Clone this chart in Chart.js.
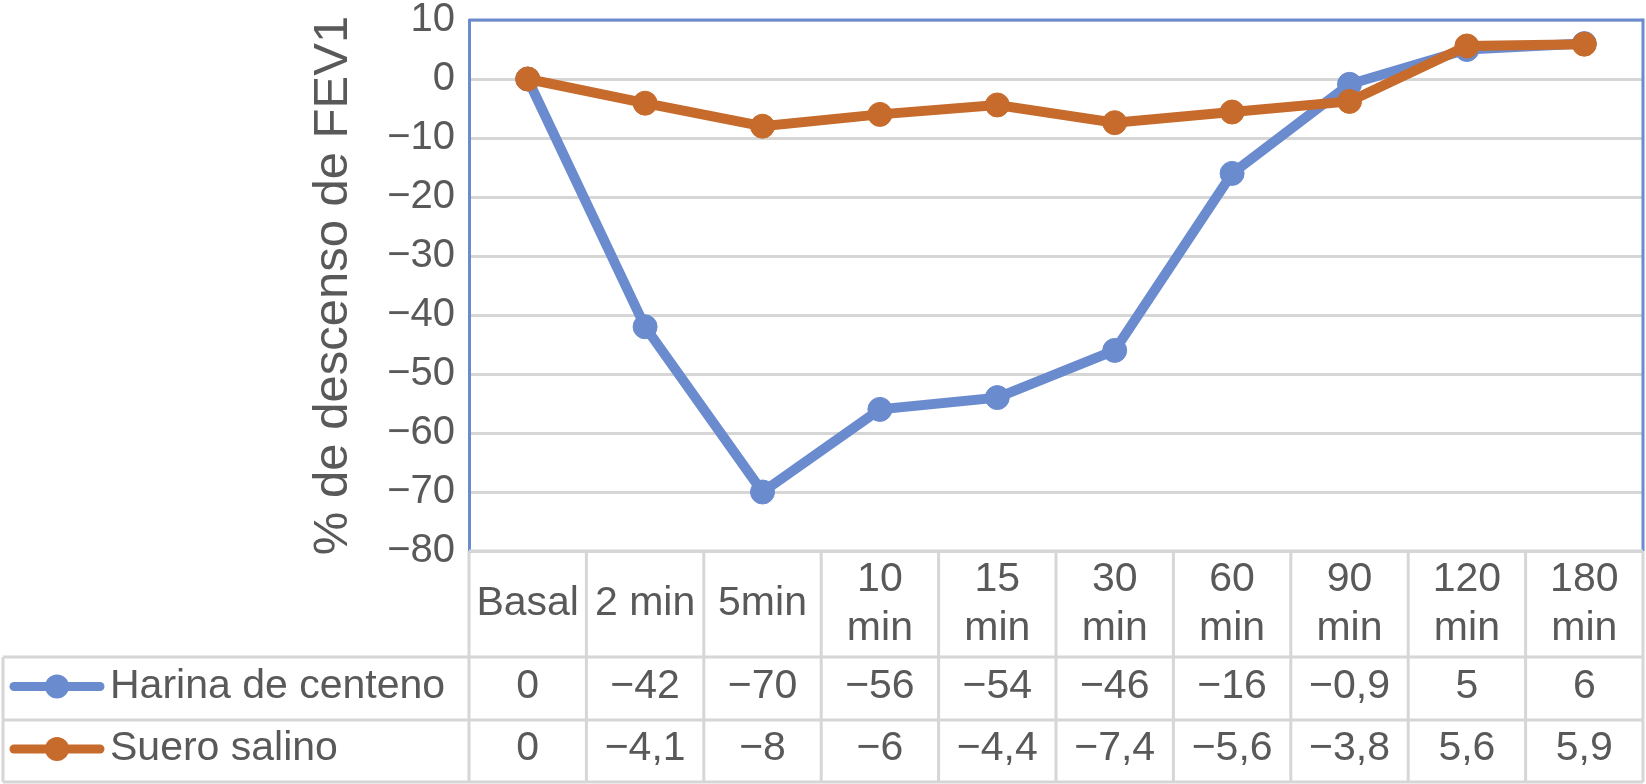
<!DOCTYPE html>
<html>
<head>
<meta charset="utf-8">
<script src="https://cdn.jsdelivr.net/npm/chart.js@4.4.1/dist/chart.umd.min.js"></script>
<style>
    html, body { margin: 0; padding: 0; background: #fff; }
    #wrap { width: 1646px; height: 784px; }
</style>
</head>
<body>
<div id="wrap"><canvas id="fevChart"></canvas></div>
<script>
const categories = ['Basal', '2 min', '5min', '10 min', '15 min', '30 min', '60 min', '90 min', '120 min', '180 min'];
const harina = [0, -42, -70, -56, -54, -46, -16, -0.9, 5, 6];
const suero = [0, -4.1, -8, -6, -4.4, -7.4, -5.6, -3.8, 5.6, 5.9];
const seriesNames = ['Harina de centeno', 'Suero salino'];
const yTicks = [10, 0, -10, -20, -30, -40, -50, -60, -70, -80];

const blue = '#6b8bcf';
const orange = '#c66b2c';
const textGray = '#595959';
const lineGray = '#d6d6d6';
const fontFam = "'Liberation Sans', Arial, sans-serif";

function fmt(v) {
    let s = String(Math.abs(v)).replace('.', ',');
    return v < 0 ? '\u2212' + s : s;
}

// draws the plot frame and the data table under the plot, aligned to the x scale
const tablePlugin = {
    id: 'dataTable',
    beforeDatasetsDraw(chart) {
        const ctx = chart.ctx;
        const a = chart.chartArea;
        ctx.save();
        ctx.strokeStyle = blue;
        ctx.lineWidth = 3;
        ctx.beginPath();
        ctx.moveTo(a.left, a.top);
        ctx.lineTo(a.right, a.top);
        ctx.lineTo(a.right, a.bottom);
        ctx.stroke();
        ctx.restore();
    },
    afterDraw(chart) {
        const ctx = chart.ctx;
        const xs = chart.scales.x;
        const a = chart.chartArea;
        const half = (xs.getPixelForValue(1) - xs.getPixelForValue(0)) / 2;
        const top = a.bottom;
        const headBottom = top + 106;
        const r1 = headBottom + 63;
        const r2 = r1 + 62;
        const tableLeft = 3;

        ctx.save();
        ctx.strokeStyle = lineGray;
        ctx.lineWidth = 3;
        ctx.beginPath();
        ctx.moveTo(a.left, top); ctx.lineTo(a.right, top);
        for (let y of [headBottom, r1, r2]) {
            ctx.moveTo(tableLeft, y); ctx.lineTo(a.right, y);
        }
        ctx.moveTo(tableLeft, headBottom); ctx.lineTo(tableLeft, r2);
        for (let i = 0; i <= categories.length; i++) {
            let x = xs.getPixelForValue(0) - half + i * 2 * half;
            ctx.moveTo(x, top); ctx.lineTo(x, r2);
        }
        ctx.stroke();

        ctx.fillStyle = textGray;
        ctx.font = '41px ' + fontFam;
        ctx.textAlign = 'center';
        ctx.textBaseline = 'middle';
        const headMid = (top + headBottom) / 2;
        categories.forEach((c, i) => {
            let x = xs.getPixelForValue(i);
            if (ctx.measureText(c).width > 2 * half - 6) {
                let parts = c.split(' ');
                ctx.fillText(parts[0], x, headMid - 24);
                ctx.fillText(parts.slice(1).join(' '), x, headMid + 25);
            } else {
                ctx.fillText(c, x, headMid);
            }
        });

        const rows = [[harina, blue, (headBottom + r1) / 2], [suero, orange, (r1 + r2) / 2]];
        rows.forEach(([vals, col, mid], k) => {
            ctx.fillStyle = textGray;
            ctx.textAlign = 'center';
            vals.forEach((v, i) => ctx.fillText(fmt(v), xs.getPixelForValue(i), mid - 2));
            ctx.strokeStyle = col;
            ctx.lineWidth = 9;
            ctx.lineCap = 'round';
            ctx.beginPath();
            ctx.moveTo(14, mid - 2); ctx.lineTo(100, mid - 2);
            ctx.stroke();
            ctx.fillStyle = col;
            ctx.beginPath();
            ctx.arc(57, mid - 2, 12, 0, Math.PI * 2);
            ctx.fill();
            ctx.fillStyle = textGray;
            ctx.textAlign = 'left';
            ctx.fillText(seriesNames[k], 110, mid - 2);
        });
        ctx.restore();
    }
};

const chart = new Chart(document.getElementById('fevChart').getContext('2d'), {
    type: 'line',
    data: {
        labels: categories,
        datasets: [{
            label: seriesNames[0],
            data: harina,
            borderColor: blue,
            backgroundColor: blue,
            borderWidth: 10,
            pointRadius: 12,
            pointBorderWidth: 1,
            pointBackgroundColor: blue,
            tension: 0,
            order: 1
        }, {
            label: seriesNames[1],
            data: suero,
            borderColor: orange,
            backgroundColor: orange,
            borderWidth: 10,
            pointRadius: 12,
            pointBorderWidth: 1,
            pointBackgroundColor: orange,
            tension: 0,
            order: 0
        }]
    },
    options: {
        responsive: true,
        maintainAspectRatio: false,
        animation: false,
        devicePixelRatio: 1,
        layout: {
            autoPadding: false,
            padding: { top: 20, right: 3, bottom: 233, left: 0 }
        },
        plugins: {
            legend: { display: false },
            tooltip: { enabled: false }
        },
        scales: {
            x: {
                display: false,
                offset: true
            },
            y: {
                min: -80,
                max: 10,
                afterFit: function(scale) {
                    scale.width = 469;
                    scale.paddingTop = 0;
                    scale.paddingBottom = 0;
                },
                afterBuildTicks: function(scale) {
                    scale.ticks = yTicks.map(v => ({ value: v }));
                },
                border: {
                    display: true,
                    color: blue,
                    width: 3
                },
                grid: {
                    color: lineGray,
                    lineWidth: 3,
                    drawTicks: false
                },
                ticks: {
                    padding: 14,
                    color: textGray,
                    font: { family: fontFam, size: 40 },
                    callback: function(value) {
                        return fmt(value);
                    }
                },
                title: {
                    display: true,
                    text: '% de descenso de FEV1',
                    color: textGray,
                    font: { family: fontFam, size: 49 },
                    padding: { top: 304, bottom: 0 }
                }
            }
        }
    },
    plugins: [tablePlugin]
});
</script>
</body>
</html>
